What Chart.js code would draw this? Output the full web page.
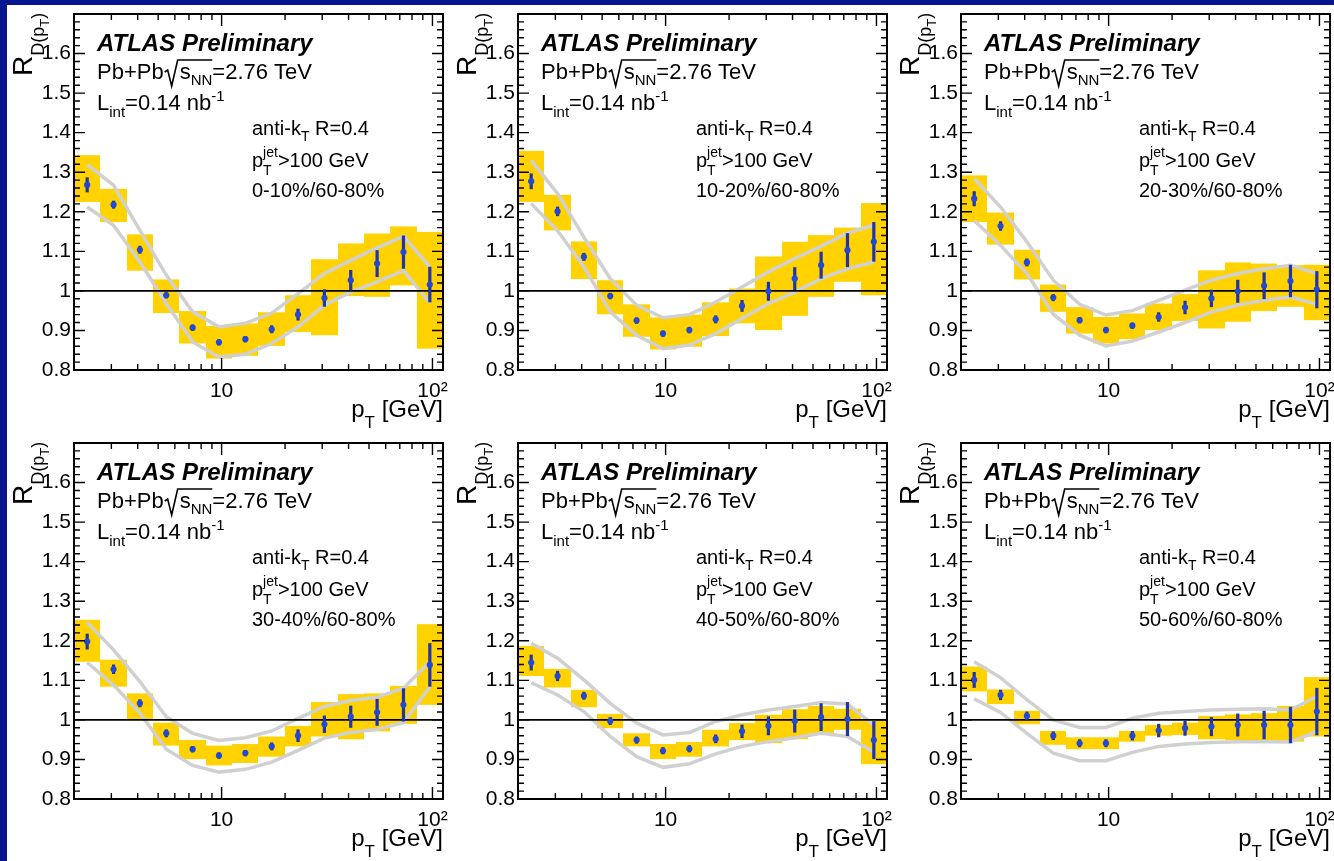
<!DOCTYPE html>
<html>
<head>
<meta charset="utf-8">
<script src="https://cdn.jsdelivr.net/npm/chart.js@4.4.1/dist/chart.umd.min.js"></script>
<style>
html, body { margin: 0; padding: 0; background: #07168f; overflow: hidden; width: 1334px; height: 861px; }
#page { position: absolute; left: 7px; top: 5px; width: 1327px; height: 856px; background: #fff; }
canvas { position: absolute; }
</style>
</head>
<body>
<div id="page"></div>
<script>
// bins in pT (GeV), 8 per decade
var binEdges = [1.995, 2.661, 3.548, 4.732, 6.310, 8.414, 11.22, 14.96, 19.95, 26.61, 35.48, 47.32, 63.10, 84.14, 112.2];
var binCenters = [2.304, 3.073, 4.097, 5.464, 7.286, 9.716, 12.96, 17.28, 23.04, 30.73, 40.97, 54.64, 72.86, 97.16];
var centralities = ['0-10%/60-80%', '10-20%/60-80%', '20-30%/60-80%', '30-40%/60-80%', '40-50%/60-80%', '50-60%/60-80%'];

// R_D(pT) central values, one row per panel
var rdValue = [
  [1.268, 1.218, 1.104, 0.989, 0.907, 0.870, 0.878, 0.903, 0.940, 0.982, 1.027, 1.069, 1.098, 1.016],
  [1.277, 1.201, 1.086, 0.987, 0.925, 0.892, 0.901, 0.928, 0.962, 0.999, 1.031, 1.065, 1.103, 1.124],
  [1.233, 1.164, 1.072, 0.983, 0.926, 0.901, 0.912, 0.934, 0.958, 0.981, 0.999, 1.013, 1.025, 1.003],
  [1.198, 1.128, 1.042, 0.966, 0.926, 0.910, 0.916, 0.933, 0.960, 0.989, 1.008, 1.019, 1.038, 1.139],
  [1.145, 1.111, 1.061, 0.997, 0.949, 0.922, 0.927, 0.952, 0.971, 0.985, 0.997, 1.007, 1.002, 0.949],
  [1.101, 1.063, 1.010, 0.960, 0.941, 0.941, 0.960, 0.973, 0.979, 0.983, 0.987, 0.987, 0.987, 1.021]
];
// statistical errors
var rdStat = [
  [0.019, 0.010, 0.010, 0.008, 0.008, 0.008, 0.008, 0.010, 0.015, 0.022, 0.026, 0.034, 0.042, 0.045],
  [0.020, 0.012, 0.010, 0.008, 0.008, 0.008, 0.008, 0.010, 0.015, 0.024, 0.029, 0.034, 0.043, 0.050],
  [0.019, 0.012, 0.010, 0.009, 0.008, 0.008, 0.008, 0.012, 0.017, 0.022, 0.029, 0.034, 0.041, 0.047],
  [0.020, 0.012, 0.010, 0.010, 0.008, 0.008, 0.008, 0.010, 0.016, 0.022, 0.028, 0.034, 0.042, 0.055],
  [0.020, 0.013, 0.010, 0.010, 0.009, 0.009, 0.009, 0.011, 0.017, 0.024, 0.029, 0.035, 0.043, 0.048],
  [0.020, 0.013, 0.011, 0.011, 0.010, 0.010, 0.012, 0.017, 0.019, 0.024, 0.029, 0.036, 0.046, 0.060]
];
// systematic boxes (top / bottom)
var sysHigh = [
  [1.343, 1.258, 1.143, 1.029, 0.949, 0.911, 0.918, 0.946, 0.989, 1.080, 1.120, 1.145, 1.163, 1.149],
  [1.354, 1.243, 1.125, 1.027, 0.966, 0.933, 0.940, 0.971, 1.006, 1.087, 1.124, 1.141, 1.160, 1.222],
  [1.292, 1.198, 1.104, 1.016, 0.959, 0.934, 0.943, 0.968, 0.992, 1.052, 1.072, 1.069, 1.065, 1.066],
  [1.253, 1.152, 1.067, 0.993, 0.949, 0.935, 0.939, 0.958, 0.985, 1.045, 1.065, 1.067, 1.086, 1.242],
  [1.187, 1.129, 1.076, 1.015, 0.966, 0.939, 0.944, 0.975, 0.992, 1.013, 1.027, 1.035, 1.028, 0.998],
  [1.135, 1.077, 1.023, 0.972, 0.956, 0.956, 0.972, 0.987, 0.993, 1.010, 1.014, 1.017, 1.035, 1.108]
];
var sysLow = [
  [1.225, 1.174, 1.051, 0.944, 0.867, 0.829, 0.836, 0.861, 0.896, 0.888, 0.987, 0.985, 1.014, 0.854],
  [1.225, 1.153, 1.030, 0.941, 0.884, 0.852, 0.859, 0.886, 0.918, 0.901, 0.937, 0.985, 1.023, 0.989],
  [1.174, 1.117, 1.029, 0.947, 0.892, 0.867, 0.878, 0.901, 0.924, 0.905, 0.922, 0.949, 0.960, 0.926],
  [1.147, 1.084, 1.002, 0.935, 0.901, 0.885, 0.891, 0.907, 0.933, 0.958, 0.951, 0.971, 0.990, 1.038],
  [1.111, 1.082, 1.032, 0.979, 0.933, 0.901, 0.907, 0.933, 0.949, 0.941, 0.951, 0.965, 0.975, 0.888],
  [1.072, 1.040, 0.989, 0.937, 0.926, 0.926, 0.945, 0.960, 0.962, 0.951, 0.949, 0.949, 0.945, 0.958]
];
// grey band (upper / lower curve)
var bandHigh = [
  [1.319, 1.267, 1.153, 1.040, 0.947, 0.909, 0.918, 0.944, 0.993, 1.044, 1.077, 1.109, 1.138, 1.061],
  [1.330, 1.246, 1.136, 1.031, 0.964, 0.932, 0.940, 0.972, 1.010, 1.048, 1.082, 1.113, 1.146, 1.166],
  [1.284, 1.212, 1.124, 1.027, 0.966, 0.939, 0.950, 0.976, 1.002, 1.027, 1.044, 1.056, 1.065, 1.044],
  [1.246, 1.177, 1.097, 1.008, 0.966, 0.948, 0.955, 0.972, 1.004, 1.034, 1.049, 1.057, 1.080, 1.147],
  [1.194, 1.156, 1.101, 1.042, 0.992, 0.962, 0.968, 0.996, 1.013, 1.025, 1.034, 1.044, 1.040, 0.987],
  [1.147, 1.107, 1.051, 1.000, 0.981, 0.981, 1.004, 1.017, 1.021, 1.025, 1.027, 1.028, 1.025, 1.059]
];
var bandLow = [
  [1.212, 1.166, 1.073, 0.968, 0.871, 0.833, 0.840, 0.867, 0.909, 0.964, 0.997, 1.023, 1.051, 0.970],
  [1.221, 1.152, 1.061, 0.947, 0.888, 0.854, 0.863, 0.892, 0.930, 0.968, 0.997, 1.031, 1.056, 1.073],
  [1.178, 1.115, 1.044, 0.941, 0.888, 0.861, 0.873, 0.896, 0.920, 0.947, 0.964, 0.976, 0.985, 0.966],
  [1.145, 1.088, 1.017, 0.926, 0.885, 0.868, 0.875, 0.893, 0.923, 0.954, 0.968, 0.976, 0.993, 1.084],
  [1.094, 1.063, 1.021, 0.958, 0.907, 0.880, 0.889, 0.914, 0.933, 0.945, 0.955, 0.966, 0.958, 0.918],
  [1.053, 1.019, 0.966, 0.916, 0.897, 0.897, 0.918, 0.933, 0.939, 0.943, 0.945, 0.945, 0.944, 0.971]
];

// axis ticks
var xLabelTicks = [10, 100];
var xMinorTicks = [2, 3, 4, 5, 6, 7, 8, 9, 20, 30, 40, 50, 60, 70, 80, 90];
var yMin = 0.8, yMax = 1.7;

var FONT = "'Liberation Sans', Arial, Helvetica, sans-serif";

function txt(ctx, s, x, y, size, style) {
  ctx.font = (style ? style + ' ' : '') + size + 'px ' + FONT;
  ctx.fillText(s, x, y);
  return x + ctx.measureText(s).width;
}
function wid(ctx, s, size, style) {
  ctx.font = (style ? style + ' ' : '') + size + 'px ' + FONT;
  return ctx.measureText(s).width;
}

var atlasPlugin = {
  id: 'atlas',
  beforeDatasetsDraw: function (chart, args, opts) {
    var ctx = chart.ctx, a = chart.chartArea, xs = chart.scales.x, ys = chart.scales.y, p = opts.panel;
    ctx.save();
    ctx.beginPath();
    ctx.rect(a.left, a.top, a.right - a.left, a.bottom - a.top);
    ctx.clip();
    ctx.fillStyle = '#ffd200';
    for (var k = 0; k < binCenters.length; k++) {
      var x0 = Math.round(xs.getPixelForValue(binEdges[k]));
      var x1 = Math.round(xs.getPixelForValue(binEdges[k + 1]));
      var y0 = ys.getPixelForValue(sysHigh[p][k]);
      var y1 = ys.getPixelForValue(sysLow[p][k]);
      ctx.fillRect(x0, y0, x1 - x0, y1 - y0);
    }
    ctx.restore();
  },
  beforeDatasetDraw: function (chart, args, opts) {
    if (args.index !== 0) return;
    var ctx = chart.ctx, xs = chart.scales.x, ys = chart.scales.y, p = opts.panel;
    ctx.save();
    ctx.strokeStyle = '#1f34a8';
    ctx.lineWidth = 3.2;
    for (var k = 0; k < binCenters.length; k++) {
      var x = xs.getPixelForValue(binCenters[k]);
      ctx.beginPath();
      ctx.moveTo(x, ys.getPixelForValue(rdValue[p][k] + rdStat[p][k]));
      ctx.lineTo(x, ys.getPixelForValue(rdValue[p][k] - rdStat[p][k]));
      ctx.stroke();
    }
    ctx.restore();
  },
  afterDraw: function (chart, args, opts) {
    var ctx = chart.ctx, a = chart.chartArea, xs = chart.scales.x, ys = chart.scales.y, p = opts.panel;
    var L = a.left, R = a.right, T = a.top, B = a.bottom;
    ctx.save();
    // tick marks, ROOT style (inside, on all four sides)
    ctx.strokeStyle = '#000';
    ctx.lineWidth = 1.4;
    ctx.beginPath();
    for (var i = 0; i <= 45; i++) {
      var v = yMin + i * 0.02;
      var yy = ys.getPixelForValue(v);
      var len = (i % 5 === 0) ? 11 : 6;
      ctx.moveTo(L, yy); ctx.lineTo(L + len, yy);
      ctx.moveTo(R, yy); ctx.lineTo(R - len, yy);
    }
    xMinorTicks.forEach(function (v) {
      var xx = xs.getPixelForValue(v);
      ctx.moveTo(xx, B); ctx.lineTo(xx, B - 6);
      ctx.moveTo(xx, T); ctx.lineTo(xx, T + 6);
    });
    xLabelTicks.forEach(function (v) {
      var xx = xs.getPixelForValue(v);
      ctx.moveTo(xx, B); ctx.lineTo(xx, B - 12);
      ctx.moveTo(xx, T); ctx.lineTo(xx, T + 12);
    });
    ctx.stroke();
    ctx.lineWidth = 2;
    ctx.strokeRect(L, T, R - L, B - T);

    // labels
    ctx.fillStyle = '#000';
    ctx.textBaseline = 'alphabetic';
    ctx.textAlign = 'left';
    txt(ctx, 'ATLAS Preliminary', L + 23, T + 37, 24, 'italic bold');

    var by = T + 65;
    var x = txt(ctx, 'Pb+Pb', L + 23, by, 22);
    ctx.beginPath();
    ctx.moveTo(x + 1, by - 7);
    ctx.lineTo(x + 4, by - 9);
    ctx.lineTo(x + 8, by + 7);
    ctx.lineTo(x + 14, by - 19);
    x += 16;
    x = txt(ctx, 's', x, by, 22);
    x = txt(ctx, 'NN', x, by + 6, 15);
    ctx.lineTo(x, by - 19);
    ctx.lineWidth = 1.6;
    ctx.stroke();
    txt(ctx, '=2.76 TeV', x, by, 22);

    by = T + 96;
    x = txt(ctx, 'L', L + 23, by, 22);
    x = txt(ctx, 'int', x, by + 7, 15);
    x = txt(ctx, '=0.14 nb', x, by, 22);
    txt(ctx, '-1', x, by - 9, 15);

    by = T + 121;
    x = txt(ctx, 'anti-k', L + 178, by, 20);
    x = txt(ctx, 'T', x, by + 6, 14);
    txt(ctx, ' R=0.4', x, by, 20);

    by = T + 153;
    x = txt(ctx, 'p', L + 178, by, 20);
    txt(ctx, 'jet', x, by - 10, 14);
    txt(ctx, 'T', x, by + 8, 14);
    x += Math.max(wid(ctx, 'jet', 14), wid(ctx, 'T', 14));
    txt(ctx, '>100 GeV', x, by, 20);

    txt(ctx, centralities[p], L + 178, T + 183, 20);

    // x title
    by = B + 47;
    var tw = wid(ctx, 'p', 24) + wid(ctx, 'T', 17) + wid(ctx, ' [GeV]', 24);
    x = txt(ctx, 'p', R - tw, by, 24);
    x = txt(ctx, 'T', x, by + 11, 17);
    txt(ctx, ' [GeV]', x, by, 24);

    // y title
    ctx.translate(L - 42, T + 62);
    ctx.rotate(-Math.PI / 2);
    x = txt(ctx, 'R', 0, 0, 28);
    x = txt(ctx, 'D(p', x, 12, 18);
    x = txt(ctx, 'T', x, 17, 13);
    txt(ctx, ')', x, 12, 18);
    ctx.restore();
  }
};

var canvasLeft = [7, 451, 894];
var canvasTop = [5, 434];

for (var p = 0; p < 6; p++) {
  var cv = document.createElement('canvas');
  cv.width = 444;
  cv.height = 429;
  cv.style.left = canvasLeft[p % 3] + 'px';
  cv.style.top = canvasTop[Math.floor(p / 3)] + 'px';
  document.body.appendChild(cv);

  var pts = binCenters.map(function (c, k) { return { x: c, y: rdValue[p][k] }; });
  var hi = binCenters.map(function (c, k) { return { x: c, y: bandHigh[p][k] }; });
  var lo = binCenters.map(function (c, k) { return { x: c, y: bandLow[p][k] }; });

  new Chart(cv.getContext('2d'), {
    type: 'line',
    data: {
      datasets: [
        { data: pts, showLine: false, pointRadius: 3.1, pointBorderWidth: 0, pointBackgroundColor: '#2149d6' },
        { data: [{ x: binEdges[0], y: 1 }, { x: binEdges[binEdges.length - 1], y: 1 }], borderColor: '#000', borderWidth: 1.6, pointRadius: 0 },
        { data: hi, borderColor: '#d0d0d0', borderWidth: 3.5, pointRadius: 0, tension: 0 },
        { data: lo, borderColor: '#d0d0d0', borderWidth: 3.5, pointRadius: 0, tension: 0 }
      ]
    },
    options: {
      responsive: false,
      animation: false,
      events: [],
      layout: { padding: { left: 0, right: 8, top: 9, bottom: 0 } },
      plugins: { legend: { display: false }, tooltip: { enabled: false }, atlas: { panel: p } },
      scales: {
        x: {
          type: 'logarithmic',
          min: binEdges[0],
          max: binEdges[binEdges.length - 1],
          grid: { display: false, drawTicks: false },
          border: { display: false },
          afterBuildTicks: function (s) { s.ticks = xLabelTicks.map(function (v) { return { value: v }; }); },
          ticks: {
            autoSkip: false, maxRotation: 0, minRotation: 0, padding: 9, color: '#000',
            font: { size: 21, family: FONT },
            callback: function (v) { return v === 100 ? '10\u00b2' : String(v); }
          },
          afterFit: function (s) { s.height = 64; s.paddingLeft = 0; s.paddingRight = 0; }
        },
        y: {
          min: yMin,
          max: yMax,
          grid: { display: false, drawTicks: false },
          border: { display: false },
          ticks: {
            stepSize: 0.1, padding: 3, color: '#000',
            font: { size: 21, family: FONT },
            callback: function (v) {
              if (v > 1.65) return '';
              return Math.abs(v - 1) < 1e-6 ? '1' : v.toFixed(1);
            }
          },
          afterFit: function (s) { s.width = 67; s.paddingTop = 0; s.paddingBottom = 0; }
        }
      }
    },
    plugins: [atlasPlugin]
  });
}
</script>
</body>
</html>
